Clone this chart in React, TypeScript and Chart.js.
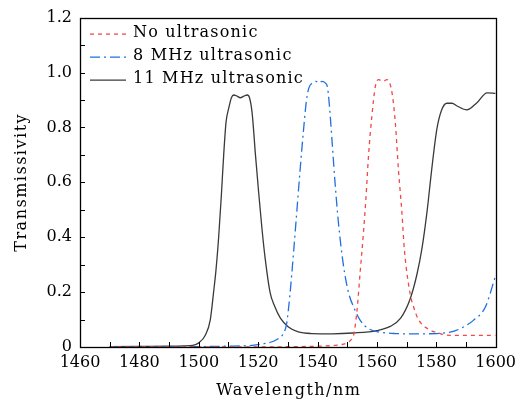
import React, { useEffect, useRef } from "react";
import { Chart, registerables } from "chart.js";

Chart.register(...registerables);

// ---- data ----
const seriesNames = ["No ultrasonic", "8 MHz ultrasonic", "11 MHz ultrasonic"];

const wlNone = [1470, 1500, 1530, 1540, 1546.6, 1550, 1551.2, 1552.2, 1553.3, 1554.4, 1555.5, 1556.3, 1557.2, 1558.3, 1559.5, 1560.6, 1562, 1563.4, 1565.1, 1566.2, 1567.3, 1568.4, 1569.3, 1571.2, 1572.4, 1574, 1576.9, 1581.3, 1583.6, 1590, 1600];
const tNone = [0, 0, 0.001, 0.003, 0.007, 0.015, 0.025, 0.045, 0.133, 0.277, 0.42, 0.54, 0.7, 0.84, 0.95, 0.974, 0.968, 0.974, 0.926, 0.818, 0.64, 0.494, 0.35, 0.194, 0.145, 0.1, 0.068, 0.049, 0.043, 0.042, 0.042];

const wl8 = [1470, 1490, 1510, 1518, 1522, 1525, 1527, 1528.5, 1529.6, 1530.7, 1531.9, 1533, 1534.1, 1535.2, 1536.3, 1537.1, 1538.3, 1539.5, 1540.4, 1541.5, 1542.6, 1543.4, 1544.2, 1545, 1545.9, 1547, 1548.7, 1550.4, 1552.4, 1554.4, 1557.2, 1560.6, 1566.2, 1572, 1580.2, 1585, 1588.1, 1592.5, 1596.5, 1600];
const t8 = [0, 0.001, 0.003, 0.006, 0.012, 0.02, 0.032, 0.049, 0.085, 0.19, 0.34, 0.49, 0.64, 0.78, 0.9, 0.944, 0.962, 0.968, 0.962, 0.968, 0.962, 0.944, 0.854, 0.734, 0.6, 0.458, 0.3, 0.2, 0.14, 0.097, 0.067, 0.055, 0.049, 0.048, 0.049, 0.055, 0.067, 0.097, 0.145, 0.26];

const wl11 = [1470, 1480, 1490, 1495, 1498, 1500, 1502.2, 1503.9, 1505, 1505.8, 1506.7, 1507.6, 1508.4, 1509.2, 1510.1, 1511, 1511.8, 1512.9, 1514, 1515.2, 1516.3, 1517.1, 1518, 1519.1, 1520.2, 1521.3, 1522.4, 1524, 1525.5, 1527.5, 1530.2, 1533.5, 1538, 1545, 1552, 1560, 1564.5, 1568, 1571.2, 1573.5, 1575.2, 1576.9, 1578.5, 1580.2, 1581.9, 1583.6, 1585.3, 1587, 1590.3, 1593.7, 1597.1, 1600];
const t11 = [0.001, 0.002, 0.003, 0.004, 0.006, 0.015, 0.043, 0.1, 0.2, 0.28, 0.4, 0.55, 0.7, 0.82, 0.87, 0.908, 0.918, 0.914, 0.908, 0.914, 0.918, 0.908, 0.85, 0.7, 0.56, 0.43, 0.32, 0.2, 0.15, 0.105, 0.073, 0.055, 0.049, 0.048, 0.051, 0.06, 0.075, 0.105, 0.175, 0.265, 0.36, 0.494, 0.65, 0.794, 0.866, 0.888, 0.888, 0.878, 0.864, 0.89, 0.926, 0.924];

const xTickValues = [1460, 1480, 1500, 1520, 1540, 1560, 1580, 1600];
const yTickValues = [0, 0.2, 0.4, 0.6, 0.8, 1.0, 1.2];
const xMinorStep = 10;
const yMinorStep = 0.1;

const colors = ["#f04848", "#1f6fe0", "#3a3a3a"];
const dashes: number[][] = [[4, 4], [10, 4, 2, 4], []];

const FONT = "'DejaVu Serif', 'Liberation Serif', serif";

function toPoints(xs: number[], ys: number[]) {
  return xs.map((x, i) => ({ x, y: ys[i] }));
}

export default function App() {
  const ref = useRef<HTMLCanvasElement>(null);

  useEffect(() => {
    const canvas = ref.current;
    if (!canvas) return;

    const decor = {
      id: "decor",
      afterDraw(chart: any) {
        const { ctx, chartArea: a, scales } = chart;
        const xs = scales.x;
        const ys = scales.y;
        ctx.save();
        ctx.strokeStyle = "#000";
        ctx.lineWidth = 1;
        ctx.setLineDash([]);
        const xMin = xTickValues[0];
        const xMax = xTickValues[xTickValues.length - 1];
        for (let v = xMin; v <= xMax + 1e-9; v += xMinorStep) {
          const px = Math.round(xs.getPixelForValue(v)) + 0.5;
          ctx.beginPath();
          ctx.moveTo(px, a.bottom);
          ctx.lineTo(px, a.bottom - 5);
          ctx.stroke();
        }
        const yMin = yTickValues[0];
        const yMax = yTickValues[yTickValues.length - 1];
        for (let v = yMin; v <= yMax + 1e-9; v += yMinorStep) {
          const py = Math.round(ys.getPixelForValue(v)) + 0.5;
          ctx.beginPath();
          ctx.moveTo(a.left, py);
          ctx.lineTo(a.left + 5, py);
          ctx.stroke();
        }
        ctx.lineWidth = 1.3;
        ctx.strokeRect(Math.round(a.left) + 0.5, Math.round(a.top) + 0.5, Math.round(a.right - a.left), Math.round(a.bottom - a.top));

        // legend
        ctx.font = "16px " + FONT;
        (ctx as any).letterSpacing = "1.2px";
        ctx.textBaseline = "middle";
        ctx.textAlign = "left";
        ctx.fillStyle = "#000";
        seriesNames.forEach((name, i) => {
          const y = a.top + 16 + i * 23;
          ctx.beginPath();
          ctx.strokeStyle = colors[i];
          ctx.lineWidth = 1.3;
          ctx.setLineDash(dashes[i]);
          ctx.moveTo(a.left + 10, y + 0.5);
          ctx.lineTo(a.left + 46, y + 0.5);
          ctx.stroke();
          ctx.setLineDash([]);
          ctx.fillText(name, a.left + 53, y - 1);
        });

        // axis titles
        (ctx as any).letterSpacing = "1.5px";
        ctx.textAlign = "center";
        ctx.textBaseline = "middle";
        ctx.fillText("Wavelength/nm", (a.left + a.right) / 2 + 1, 391);
        ctx.save();
        ctx.translate(22, (a.top + a.bottom) / 2);
        ctx.rotate(-Math.PI / 2);
        ctx.fillText("Transmissivity", 0, 0);
        ctx.restore();
        (ctx as any).letterSpacing = "0px";
        ctx.restore();
      },
    };

    const mk = (label: string, xs: number[], ys: number[], i: number) => ({
      label,
      data: toPoints(xs, ys),
      borderColor: colors[i],
      backgroundColor: colors[i],
      borderWidth: 1.3,
      borderDash: dashes[i],
      pointRadius: 0,
      fill: false,
      cubicInterpolationMode: "monotone" as const,
    });

    const chart = new Chart(canvas, {
      type: "line",
      data: {
        datasets: [
          mk(seriesNames[0], wlNone, tNone, 0),
          mk(seriesNames[1], wl8, t8, 1),
          mk(seriesNames[2], wl11, t11, 2),
        ],
      },
      plugins: [decor],
      options: {
        animation: false,
        responsive: false,
        devicePixelRatio: 1,
        layout: { padding: { top: 14, right: 26, left: 0, bottom: 0 } },
        plugins: { legend: { display: false }, tooltip: { enabled: false } },
        scales: {
          x: {
            type: "linear",
            min: xTickValues[0],
            max: xTickValues[xTickValues.length - 1],
            afterBuildTicks: (s: any) => {
              s.ticks = xTickValues.map((v) => ({ value: v }));
            },
            afterFit: (s: any) => {
              s.height = 56;
            },
            grid: { display: false, drawTicks: false },
            border: { display: false },
            ticks: {
              padding: 6,
              color: "#000",
              font: { family: FONT, size: 16 },
              maxRotation: 0,
              autoSkip: false,
              callback: (v: any) => String(v),
            },
          },
          y: {
            type: "linear",
            min: yTickValues[0],
            max: yTickValues[yTickValues.length - 1],
            afterBuildTicks: (s: any) => {
              s.ticks = yTickValues.map((v) => ({ value: v }));
            },
            afterFit: (s: any) => {
              s.width = 80;
            },
            grid: { display: false, drawTicks: false },
            border: { display: false },
            ticks: {
              padding: 8,
              color: "#000",
              font: { family: FONT, size: 16 },
              autoSkip: false,
              callback: (v: any) => (Number(v) === 0 ? "0" : Number(v).toFixed(1)),
            },
          },
        },
      },
    });
    return () => chart.destroy();
  }, []);

  return (
    <canvas
      ref={ref}
      width={522}
      height={403}
      style={{ position: "absolute", left: 0, top: 0, width: 522, height: 403, background: "#fff" }}
    />
  );
}
